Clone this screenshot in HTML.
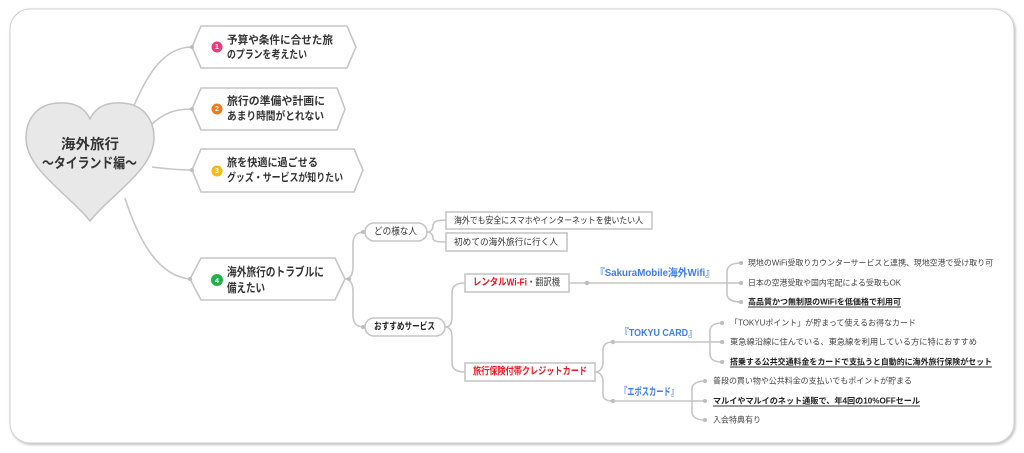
<!DOCTYPE html>
<html><head><meta charset="utf-8"><style>
html,body{margin:0;padding:0;background:#fff;}
svg{display:block;}
text{font-family:"Liberation Sans","Noto Sans CJK JP",sans-serif;dominant-baseline:central;}
.b{font-weight:bold;fill:#333;}
.s{font-size:8.2px;fill:#444;}
.sb{font-size:8.2px;fill:#222;font-weight:bold;}
.ln{fill:none;stroke:#c6c6c6;stroke-width:1.6;}
.dot{fill:#bdbdbd;}
.blue{fill:#3f7cf4;font-weight:bold;}
</style></head><body>
<svg width="1024" height="453" viewBox="0 0 1024 453" xmlns="http://www.w3.org/2000/svg">
<defs>
<filter id="sh" x="-5%" y="-5%" width="110%" height="110%">
<feDropShadow dx="1" dy="1.2" stdDeviation="1.3" flood-color="#000" flood-opacity="0.28"/>
</filter>
</defs>
<rect x="10" y="9" width="1004" height="434" rx="20" fill="#fff" stroke="#d0d0d0" stroke-width="1" filter="url(#sh)"/>

<!-- connectors from heart -->
<path class="ln" d="M133,108 C148,72 165,47 192,47"/>
<path class="ln" d="M150,126 C163,113 175,109 192,109"/>
<path class="ln" d="M152,167 C168,169 180,170 192,170"/>
<path class="ln" d="M125,198 C140,245 160,276 190,279"/>

<!-- heart -->
<path d="M90,119 C84,106 72,102 58,103 C38,104 26,118 26,138 C26,170 70,195 90,221 C110,195 154,170 154,138 C154,118 142,104 122,103 C108,102 96,106 90,119 Z" fill="#e8e8e8" stroke="#c2c2c2" stroke-width="1.5"/>
<text class="b" x="90" y="144" font-size="14" text-anchor="middle" textLength="58" lengthAdjust="spacingAndGlyphs">海外旅行</text>
<text class="b" x="42" y="163" font-size="14" textLength="95" lengthAdjust="spacingAndGlyphs">～タイランド編～</text>

<!-- hex nodes -->
<polygon points="192,47 201,26 347,26 356,47 347,68 201,68" fill="#fff" stroke="#c6c6c6" stroke-width="1.6"/>
<polygon points="192,109 201,88 337,88 345,109 337,130 201,130" fill="#fff" stroke="#c6c6c6" stroke-width="1.6"/>
<polygon points="192,170 201,149 354,149 363,170 354,192 201,192" fill="#fff" stroke="#c6c6c6" stroke-width="1.6"/>
<polygon points="190,279 201,258 335,258 345,279 335,300 201,300" fill="#fff" stroke="#c6c6c6" stroke-width="1.6"/>
<circle class="dot" cx="192" cy="47" r="2"/>
<circle class="dot" cx="192" cy="109" r="2"/>
<circle class="dot" cx="192" cy="170" r="2"/>
<circle class="dot" cx="190" cy="279" r="2"/>

<circle cx="217" cy="47" r="5.5" fill="#ec3a7c"/>
<text x="217" y="47.5" font-size="7" fill="#fff" font-weight="bold" text-anchor="middle">1</text>
<text class="b" x="227" y="40.5" font-size="11" textLength="106" lengthAdjust="spacingAndGlyphs">予算や条件に合せた旅</text>
<text class="b" x="227" y="55" font-size="11" textLength="80" lengthAdjust="spacingAndGlyphs">のプランを考えたい</text>

<circle cx="217" cy="109" r="5.5" fill="#f27a1c"/>
<text x="217" y="109.5" font-size="7" fill="#fff" font-weight="bold" text-anchor="middle">2</text>
<text class="b" x="227" y="101.5" font-size="11" textLength="98" lengthAdjust="spacingAndGlyphs">旅行の準備や計画に</text>
<text class="b" x="227" y="116.5" font-size="11" textLength="97" lengthAdjust="spacingAndGlyphs">あまり時間がとれない</text>

<circle cx="217" cy="171" r="5.5" fill="#f7b90c"/>
<text x="217" y="171.5" font-size="7" fill="#fff" font-weight="bold" text-anchor="middle">3</text>
<text class="b" x="227" y="163" font-size="11" textLength="91" lengthAdjust="spacingAndGlyphs">旅を快適に過ごせる</text>
<text class="b" x="227" y="178" font-size="11" textLength="116" lengthAdjust="spacingAndGlyphs">グッズ・サービスが知りたい</text>

<circle cx="217" cy="280" r="6" fill="#22b24c"/>
<text x="217" y="280.5" font-size="7.5" fill="#fff" font-weight="bold" text-anchor="middle">4</text>
<text class="b" x="227" y="272" font-size="12" textLength="97" lengthAdjust="spacingAndGlyphs">海外旅行のトラブルに</text>
<text class="b" x="227" y="288" font-size="12" textLength="38" lengthAdjust="spacingAndGlyphs">備えたい</text>

<!-- node4 branches -->
<path class="ln" d="M345,279 C351,279 353,274 353,266 L353,244 C353,236 356,232 365,232"/>
<path class="ln" d="M345,279 C351,279 353,284 353,292 L353,315 C353,323 356,327 365,327"/>
<circle class="dot" cx="349" cy="279" r="2"/>
<circle class="dot" cx="363" cy="232" r="2"/>
<circle class="dot" cx="363" cy="327" r="2"/>

<rect x="365" y="223" width="62" height="18" rx="9" fill="#fff" stroke="#c6c6c6" stroke-width="1.6"/>
<text x="374" y="232" font-size="9.5" fill="#333" textLength="43" lengthAdjust="spacingAndGlyphs">どの様な人</text>
<rect x="365" y="318" width="80" height="18" rx="9" fill="#fff" stroke="#c6c6c6" stroke-width="1.6"/>
<text x="374" y="327" font-size="9.5" fill="#222" font-weight="bold" textLength="61" lengthAdjust="spacingAndGlyphs">おすすめサービス</text>

<!-- people -->
<path class="ln" d="M427,232 C431,232 433,229 433,226 C433,222 436,220 446,220"/>
<path class="ln" d="M427,232 C431,232 433,235 433,238 C433,241 436,242 446,242"/>
<rect x="446" y="212" width="206" height="17" fill="#fff" stroke="#c6c6c6" stroke-width="1.6"/>
<text x="454" y="220.5" font-size="9" fill="#333" textLength="189" lengthAdjust="spacingAndGlyphs">海外でも安全にスマホやインターネットを使いたい人</text>
<rect x="446" y="233" width="121" height="18" fill="#fff" stroke="#c6c6c6" stroke-width="1.6"/>
<text x="454" y="242" font-size="9" fill="#333" textLength="104" lengthAdjust="spacingAndGlyphs">初めての海外旅行に行く人</text>

<!-- services -->
<path class="ln" d="M445,327 C450,327 452,323 452,317 L452,293 C452,286 456,283 465,283"/>
<path class="ln" d="M445,327 C450,327 452,331 452,337 L452,363 C452,369 456,372 465,372"/>

<rect x="465" y="274" width="104" height="18" fill="#fff" stroke="#c6c6c6" stroke-width="1.6"/>
<text x="473" y="283" font-size="10" fill="#f0141e" font-weight="bold" textLength="54" lengthAdjust="spacingAndGlyphs">レンタルWi-Fi</text>
<text x="527" y="283" font-size="10" fill="#444" textLength="33" lengthAdjust="spacingAndGlyphs">・翻訳機</text>

<path class="ln" d="M569,283 L727,283"/>
<circle class="dot" cx="587" cy="283" r="2.2"/>
<text class="blue" x="595" y="273" font-size="10.5" textLength="120" lengthAdjust="spacingAndGlyphs">『SakuraMobile海外Wifi』</text>

<path class="ln" d="M741,263 C732,263 727,266 727,272 L727,294 C727,299 732,302 741,302"/>
<path class="ln" d="M727,283 L741,283"/>
<circle class="dot" cx="741" cy="263" r="2"/>
<circle class="dot" cx="741" cy="283" r="2"/>
<circle class="dot" cx="741" cy="302" r="2"/>
<text class="s" x="748" y="263" textLength="245" lengthAdjust="spacingAndGlyphs">現地のWiFi受取りカウンターサービスと連携、現地空港で受け取り可</text>
<text class="s" x="748" y="283" textLength="153" lengthAdjust="spacingAndGlyphs">日本の空港受取や国内宅配による受取もOK</text>
<text class="sb" x="748" y="302" textLength="153" lengthAdjust="spacingAndGlyphs">高品質かつ無制限のWiFiを低価格で利用可</text>
<line x1="748" y1="307" x2="901" y2="307" stroke="#333" stroke-width="0.9"/>

<!-- credit card -->
<rect x="465" y="363" width="130" height="18" fill="#fff" stroke="#c6c6c6" stroke-width="1.6"/>
<text x="473" y="372" font-size="10" fill="#f0141e" font-weight="bold" textLength="114" lengthAdjust="spacingAndGlyphs">旅行保険付帯クレジットカード</text>

<path class="ln" d="M595,372 C600,372 603,368 603,362 L603,350 C603,345 606,342 613,342"/>
<path class="ln" d="M595,372 C600,372 603,376 603,382 L603,394 C603,399 606,401 613,401"/>
<circle class="dot" cx="613" cy="342" r="2.2"/>
<circle class="dot" cx="613" cy="401" r="2.2"/>

<text class="blue" x="620" y="333" font-size="10.5" textLength="77" lengthAdjust="spacingAndGlyphs">『TOKYU CARD』</text>
<path class="ln" d="M613,342 L710,342"/>
<path class="ln" d="M722,323 C714,323 710,326 710,331 L710,354 C710,359 714,362 722,362"/>
<path class="ln" d="M710,342 L722,342"/>
<circle class="dot" cx="722" cy="323" r="2"/>
<circle class="dot" cx="722" cy="342" r="2"/>
<circle class="dot" cx="722" cy="362" r="2"/>
<text class="s" x="730" y="323" textLength="186" lengthAdjust="spacingAndGlyphs">「TOKYUポイント」が貯まって使えるお得なカード</text>
<text class="s" x="730" y="342" textLength="247" lengthAdjust="spacingAndGlyphs">東急線沿線に住んでいる、東急線を利用している方に特におすすめ</text>
<text class="sb" x="730" y="362" textLength="262" lengthAdjust="spacingAndGlyphs">搭乗する公共交通料金をカードで支払うと自動的に海外旅行保険がセット</text>
<line x1="730" y1="367" x2="992" y2="367" stroke="#333" stroke-width="0.9"/>

<text class="blue" x="620" y="392" font-size="10.5" textLength="58" lengthAdjust="spacingAndGlyphs">『エポスカード』</text>
<path class="ln" d="M613,401 L692,401"/>
<path class="ln" d="M705,381 C697,381 692,384 692,389 L692,412 C692,417 697,420 705,420"/>
<path class="ln" d="M692,401 L705,401"/>
<circle class="dot" cx="705" cy="381" r="2"/>
<circle class="dot" cx="705" cy="401" r="2"/>
<circle class="dot" cx="705" cy="420" r="2"/>
<text class="s" x="713" y="381" textLength="199" lengthAdjust="spacingAndGlyphs">普段の買い物や公共料金の支払いでもポイントが貯まる</text>
<text class="sb" x="713" y="401" textLength="207" lengthAdjust="spacingAndGlyphs">マルイやマルイのネット通販で、年4回の10%OFFセール</text>
<line x1="713" y1="406" x2="920" y2="406" stroke="#333" stroke-width="0.9"/>
<text class="s" x="713" y="420" textLength="48" lengthAdjust="spacingAndGlyphs">入会特典有り</text>
</svg>
</body></html>
